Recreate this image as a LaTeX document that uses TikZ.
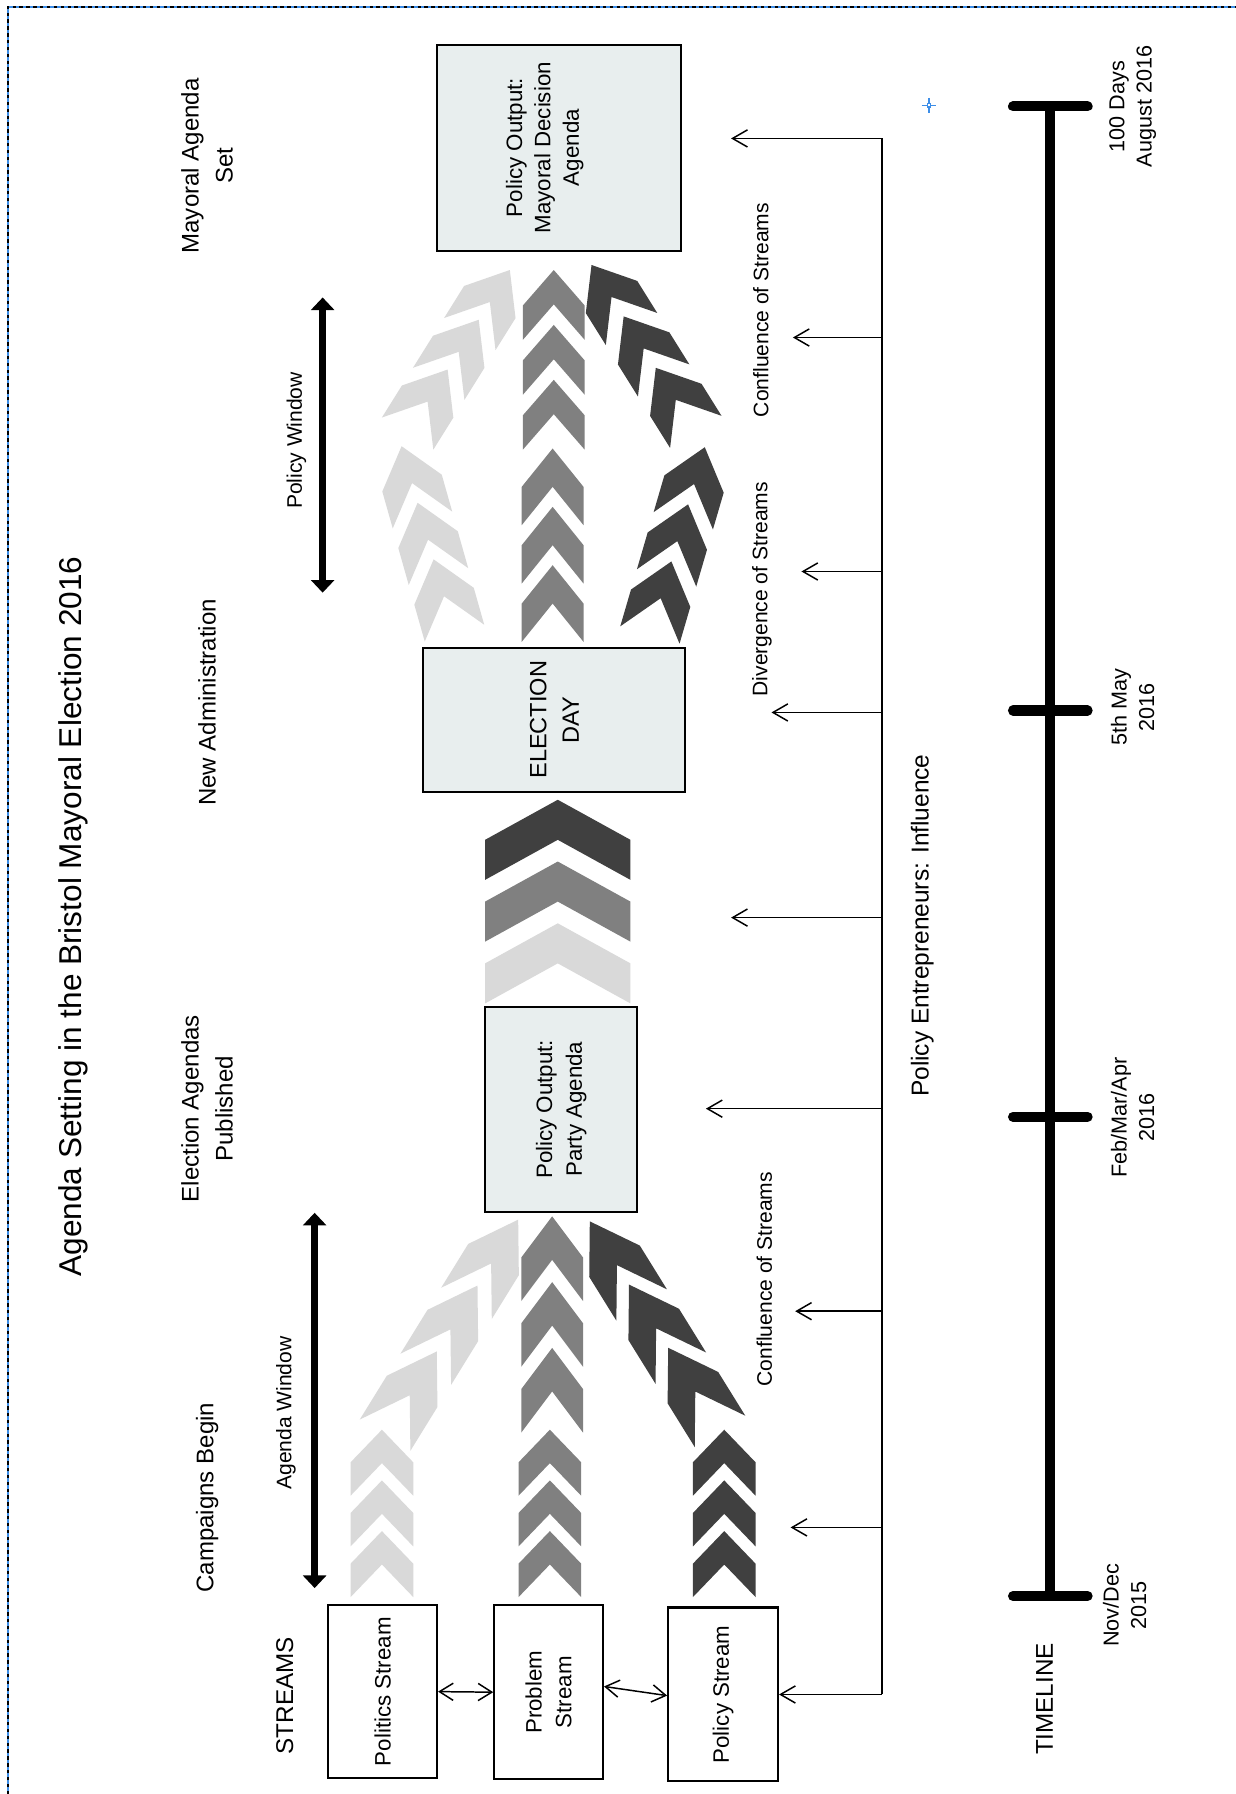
\documentclass[tikz,border=0pt]{standalone}
\usepackage{fontspec}
\setmainfont{Liberation Sans}
\usetikzlibrary{arrows.meta}
\definecolor{clight}{HTML}{D9D9D9}
\definecolor{cmid}{HTML}{808080}
\definecolor{cdark}{HTML}{404040}
\definecolor{boxfill}{HTML}{E8EEEE}
\definecolor{selblue}{HTML}{3D8EE8}
\newcommand\fsz[2]{\fontsize{#1}{#2}\selectfont}
% x y angle w h s pitch colour count
\newcommand\chevgrp[9]{%
  \begin{scope}[shift={(#1,#2)},rotate=#3]
    \foreach \k in {1,...,#9}{
      \fill[#8] (0,{(\k-1)*#7}) -- ++({#4/2},#6) -- ++(0,{#5-#6}) -- ++({-#4/2},{-#6})
        -- ++({-#4/2},#6) -- ++(0,{#6-#5}) -- cycle;
    }
  \end{scope}}
\begin{document}
\begin{tikzpicture}[x=0.5pt,y=-0.5pt,
  txtH/.style={rotate=90, align=center, inner sep=0pt, font=\fsz{10.5pt}{14.8pt}},
  txtS/.style={rotate=90, inner sep=0pt, font=\fsz{9.2pt}{11pt}},
  txtT/.style={rotate=90, align=center, inner sep=0pt, font=\fsz{9.45pt}{12pt}},
  sbox/.style={rotate=90, draw=black, line width=0.9pt, fill=white, align=center, inner sep=0pt, font=\fsz{9.75pt}{13pt}},
  obox/.style={sbox, fill=boxfill},
  conn/.style={line width=0.65pt, draw=black},
  barb/.style={conn, -{Straight Barb[length=6.5pt,width=7.5pt]}},
  dbarb/.style={conn, {Straight Barb[length=6pt,width=7.5pt]}-{Straight Barb[length=6pt,width=7.5pt]}},
  winarrow/.style={line width=2.9pt, {Triangle[length=5.5pt,width=10pt]}-{Triangle[length=5.5pt,width=10pt]}},
  tline/.style={line width=4.4pt},
  ttick/.style={line width=4.4pt, line cap=round}]
\useasboundingbox (0,0) rectangle (1080,1568);
\fill[white] (0,0) rectangle (1080,1568);

% frame
\draw[selblue, line width=0.6pt] (7,1568) -- (7,6) -- (1080,6);
\draw[black, line width=0.6pt, dash pattern=on 1.5pt off 1.5pt] (7,1568) -- (7,6) -- (1080,6);

% selection marker
\draw[selblue, line width=0.5pt] (805.5,92) -- (818.5,92) (812,85.5) -- (812,98.5);
\draw[selblue, line width=0.5pt, fill=white] (810.5,90.5) rectangle (813.5,93.5);

% title and headings
\node[rotate=90, inner sep=0pt, font=\fsz{13.8pt}{16pt}] (title) at (64,801) {Agenda Setting in the Bristol Mayoral Election 2016};
\node[txtH] (hCamp) at (181,1309) {Campaigns Begin};
\node[txtH] (hElec) at (181,969) {Election Agendas\\Published};
\node[txtH] (hNew) at (181,614) {New Administration};
\node[txtH] (hMay) at (181,145) {Mayoral Agenda\\Set};
\node[rotate=90, inner sep=0pt, font=\fsz{10.6pt}{12pt}] (streams) at (249,1482) {STREAMS};
\node[rotate=90, inner sep=0pt, font=\fsz{10.6pt}{12pt}] (timeline) at (913,1485) {TIMELINE};

% window arrows
\node[txtS] (lAgenda) at (250,1235) {Agenda Window};
\node[txtS] (lPolWin) at (259,385) {Policy Window};
\coordinate (aw1) at (275,1060);
\coordinate (aw2) at (275,1388);
\coordinate (pw1) at (282,260);
\coordinate (pw2) at (282,518);
\draw[winarrow] (aw1) -- (aw2);
\draw[winarrow] (pw1) -- (pw2);

% chevrons: bottom straight groups
\chevgrp{333.8}{1249.6}{0}{54.8}{57.7}{28.5}{44.3}{clight}{3}
\chevgrp{480.6}{1249.6}{0}{54.8}{57.7}{28.5}{44.3}{cmid}{3}
\chevgrp{633}{1249.6}{0}{54.8}{57.7}{28.5}{44.3}{cdark}{3}
% bottom confluence groups
\chevgrp{452.9}{1066}{-31.7}{52}{86}{41}{67.7}{clight}{3}
\chevgrp{482.6}{1063.1}{0}{54}{74}{36}{57.5}{cmid}{3}
\chevgrp{515.5}{1067.5}{31.8}{52}{86}{41}{65}{cdark}{3}
% big chevrons
\chevgrp{487.5}{699}{0}{127}{70}{35}{54}{cdark}{1}
\chevgrp{487.5}{753}{0}{127}{70}{35}{54}{cmid}{1}
\chevgrp{487.5}{807}{0}{127}{70}{35}{54}{clight}{1}
% top divergence groups
\chevgrp{351}{390}{15.8}{54}{67}{33.5}{51.4}{clight}{3}
\chevgrp{483}{392}{0}{54}{67}{33.5}{51}{cmid}{3}
\chevgrp{616}{390.9}{-16.3}{54}{67}{33.5}{52}{cdark}{3}
% top confluence groups
\chevgrp{445.6}{236}{-32}{53}{66}{33}{51.3}{clight}{3}
\chevgrp{484}{236}{0}{54}{61}{31}{48}{cmid}{3}
\chevgrp{517}{231.6}{32}{53}{66}{33}{53}{cdark}{3}

% boxes (rotated: minimum width = visual height)
\node[sbox, minimum width=75.5pt, minimum height=47.5pt] (politics) at (334.5,1478.5) {Politics Stream};
\node[sbox, minimum width=76pt, minimum height=47.5pt] (problem) at (479.5,1479) {Problem\\Stream};
\node[sbox, minimum width=76pt, minimum height=48pt] (policy) at (632,1481) {Policy Stream};
\node[obox, minimum width=89.5pt, minimum height=66.5pt] (party) at (490.5,969.5) {Policy Output:\\Party Agenda};
\node[obox, minimum width=63pt, minimum height=114.5pt, font=\fsz{10.3pt}{14.2pt}] (election) at (484.5,629) {ELECTION\\DAY};
\node[obox, minimum width=90pt, minimum height=106.5pt] (mayoral) at (488.5,129) {};
\node[rotate=90, align=center, inner sep=0pt, font=\fsz{9.75pt}{12.4pt}] (mayoraltxt) at (476,129) {Policy Output:\\Mayoral Decision\\Agenda};

% stream interactions
\draw[dbarb] (politics.south) -- (problem.north);
\draw[dbarb] ([yshift=2.5pt]problem.south) -- ([yshift=-0.5pt]policy.north);

% policy entrepreneurs
\node[rotate=90, inner sep=0pt, font=\fsz{10.7pt}{12pt}] (lPE) at (806,809) {Policy Entrepreneurs: Influence};
\node[txtS] (lConf1) at (668,1118) {Confluence of Streams};
\node[txtS] (lDiv) at (666,515) {Divergence of Streams};
\node[txtS] (lConf2) at (665,271) {Confluence of Streams};

\coordinate (e1) at (771,121);   \coordinate (a1) at (639,121);
\coordinate (e2) at (771,295);   \coordinate (a2) at (693,295);
\coordinate (e3) at (771,499.5); \coordinate (a3) at (700.5,499.5);
\coordinate (e4) at (771,622.7); \coordinate (a4) at (674.3,622.7);
\coordinate (e5) at (771,802);   \coordinate (a5) at (639,802);
\coordinate (e6) at (771,969);   \coordinate (a6) at (617,969);
\coordinate (e7) at (771,1146);  \coordinate (a7) at (695,1146);
\coordinate (e8) at (771,1335);  \coordinate (a8) at (691,1335);
\coordinate (e9) at (771,1481);
\draw[conn] (e1) -- (e9);
\foreach \i in {1,...,8}{\draw[barb] (e\i) -- (a\i);}
\draw[barb] (e9) -- (policy.south);

% timeline
\coordinate (tTop) at (918,93);
\coordinate (tBot) at (918,1395);
\draw[tline] (tTop) -- (tBot);
\foreach \yy in {93,621,976,1395}{\draw[ttick] (885.4,\yy) -- (950.6,\yy);}
\node[txtT] (t1) at (990,93) {100 Days\\August 2016};
\node[txtT] (t2) at (990,618) {5th May\\2016};
\node[txtT] (t3) at (990,977) {Feb/Mar/Apr\\2016};
\node[txtT] (t4) at (983,1403) {Nov/Dec\\2015};
\end{tikzpicture}
\end{document}
